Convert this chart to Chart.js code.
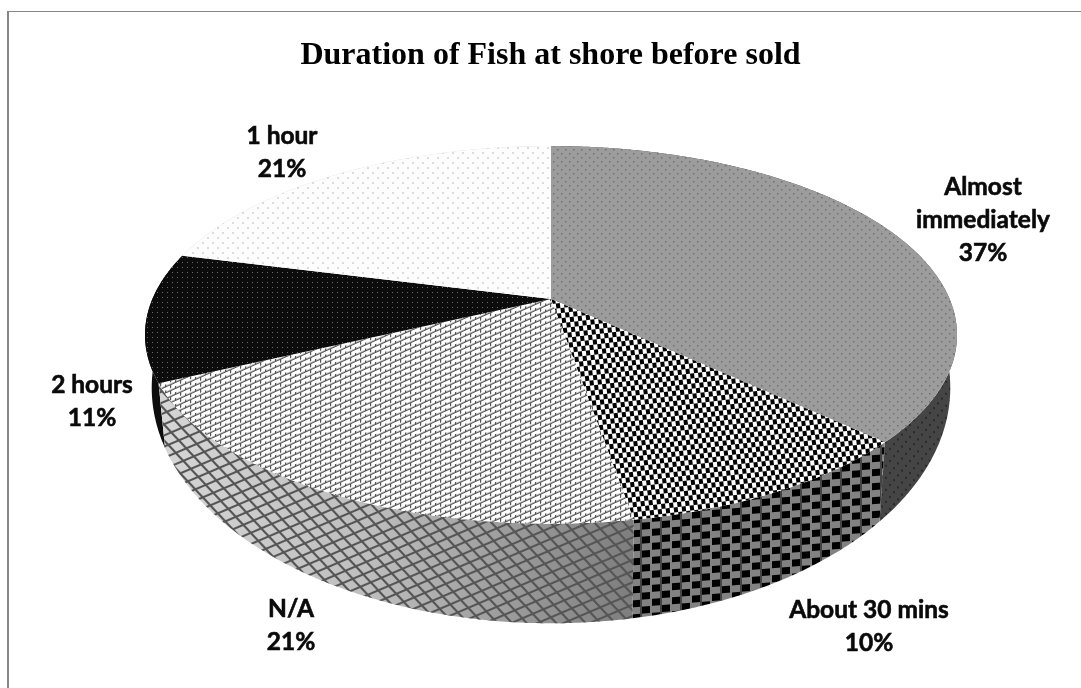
<!DOCTYPE html>
<html>
<head>
<meta charset="utf-8">
<style>html,body{margin:0;padding:0;background:#fff}canvas{display:block}</style>
<script src="https://cdn.jsdelivr.net/npm/chart.js@4"></script>
</head>
<body>
<canvas id="c" width="1081" height="688"></canvas>
<script>
const categories = ["Almost\nimmediately", "About 30 mins", "N/A", "2 hours", "1 hour"];
const shares = [37, 10.3, 20.7, 11, 21];
const chartTitle = "Duration of Fish at shore before sold";

// projection of the pie's top and bottom rims
const CX = 551;
const TOP = {cy: 299, A: 182, B: 398.6, k: 0.19};
const BOT = {cy: 343, A: 227, B: 392, k: 0.19};
const labelCenters = [[983,187],[869,610],[291,609],[92,385],[282,136]];
const LINE = 33;

function proj(p, a){
  const u = Math.cos(a), v = Math.sin(a), w = 1 - p.k * v;
  return [CX + p.B * u / w, p.cy + p.A * v / w];
}
function tile(w, h, draw){
  const t = document.createElement('canvas'); t.width = w; t.height = h;
  draw(t.getContext('2d'), w, h); return t;
}
function dots(bg, fg, w, h, r, pts){
  return tile(w, h, g => {
    g.fillStyle = bg; g.fillRect(0,0,w,h); g.fillStyle = fg;
    pts.forEach(p => g.fillRect(p[0], p[1], r, r));
  });
}
function makeFills(ctx){
  const pat = (t, m) => { const p = ctx.createPattern(t, 'repeat'); if (m) p.setTransform(new DOMMatrix(m)); return p; };
  const face = [
    pat(dots('#9c9c9c', '#6e6e6e', 8, 8, 1.5, [[1,1],[5,5]])),
    pat(tile(8, 10, (g) => { g.fillStyle='#000'; g.fillRect(0,0,8,10); g.fillStyle='#fff'; g.fillRect(0,0,4,5); g.fillRect(4,5,4,5); }), [1,-0.12,0.12,1,0,0]),
    pat(tile(10, 6, (g) => { g.fillStyle='#fff'; g.fillRect(0,0,10,6); g.fillStyle='#555'; g.fillRect(0,4.6,10,1.4); g.fillRect(0,0,1.2,3); g.fillRect(5,3,1.2,2); }), [1,-0.45,0,1,0,0]),
    pat(dots('#0c0c0c', '#6a6a6a', 5, 5, 1, [[2,2]])),
    pat(dots('#fdfdfd', '#dcdcdc', 10, 10, 2, [[2,2],[7,7]]))
  ];
  const side = [
    pat(dots('#454545', '#2a2a2a', 8, 12, 2, [[1,1],[5,7]]), [1,0.3,0,1,0,0]),
    pat(tile(20, 14, (g) => { g.fillStyle='#828282'; g.fillRect(0,0,20,14); g.fillStyle='#000'; g.fillRect(2,0,8,7); g.fillRect(12,7,8,7); g.fillStyle='#444'; g.fillRect(0,0,2,14); }), [1,-0.08,0,1,0,0]),
    null,
    '#0d0d0d',
    '#cccccc'
  ];
  const grid = pat(tile(10, 10, (g) => { g.fillStyle='#555'; g.fillRect(0,0,10,2); g.fillRect(0,0,2,10); }), [1.05,-0.45,0.75,0.8,0,0]);
  return {face, side, grid};
}
const pie3d = {
  id: 'pie3d',
  beforeDraw(chart){
    const c = chart.ctx;
    c.save(); c.fillStyle = '#878787';
    c.fillRect(7, 11, 2, 677); c.fillRect(7, 11, 1074, 1);
    c.restore();
  },
  beforeDatasetsDraw(chart){
    const c = chart.ctx, arcs = chart.getDatasetMeta(0).data, fills = makeFills(c);
    const rim = (p, a0, a1) => {
      const n = Math.max(2, Math.ceil((a1 - a0) / 0.008)), out = [];
      for (let i = 0; i <= n; i++) out.push(proj(p, a0 + (a1 - a0) * i / n));
      return out;
    };
    const path = pts => { c.beginPath(); pts.forEach((q, i) => i ? c.lineTo(q[0], q[1]) : c.moveTo(q[0], q[1])); c.closePath(); };
    c.save();
    [4, 0, 3, 1, 2].forEach(i => {
      const a = arcs[i];
      path(rim(TOP, a.startAngle, a.endAngle).concat(rim(BOT, a.startAngle, a.endAngle).reverse()));
      if (i === 2) {
        const g = c.createLinearGradient(160, 0, 632, 0);
        g.addColorStop(0, '#d6d6d6'); g.addColorStop(0.45, '#bdbdbd'); g.addColorStop(1, '#7e7e7e');
        c.fillStyle = g; c.fill();
        c.fillStyle = fills.grid; c.fill();
      } else { c.fillStyle = fills.side[i]; c.fill(); }
    });
    arcs.forEach((a, i) => {
      path([[CX, TOP.cy]].concat(rim(TOP, a.startAngle, a.endAngle)));
      c.fillStyle = fills.face[i]; c.fill();
    });
    c.restore();
    return false;
  },
  afterDraw(chart){
    const c = chart.ctx, d = chart.data.datasets[0].data;
    c.save();
    c.fillStyle = '#0a0a0a'; c.strokeStyle = '#0a0a0a'; c.lineWidth = 0.6;
    c.font = 'bold 24.5px Lato'; c.textAlign = 'center'; c.textBaseline = 'middle';
    chart.data.labels.forEach((lab, i) => {
      const lines = lab.split('\n').concat(Math.round(d[i]) + '%');
      lines.forEach((t, j) => {
        c.fillText(t, labelCenters[i][0], labelCenters[i][1] + j * LINE);
        c.strokeText(t, labelCenters[i][0], labelCenters[i][1] + j * LINE);
      });
    });
    c.restore();
  }
};
new Chart(document.getElementById('c'), {
  type: 'pie',
  data: { labels: categories, datasets: [{ data: shares, borderWidth: 0 }] },
  options: {
    responsive: false, animation: false,
    layout: { padding: { left: 20 } },
    plugins: {
      legend: { display: false }, tooltip: { enabled: false },
      title: { display: true, text: chartTitle, color: '#000', font: { family: 'Liberation Serif', weight: 'bold', size: 32 }, padding: { top: 37, bottom: 10 } }
    }
  },
  plugins: [pie3d]
});
</script>
</body>
</html>
